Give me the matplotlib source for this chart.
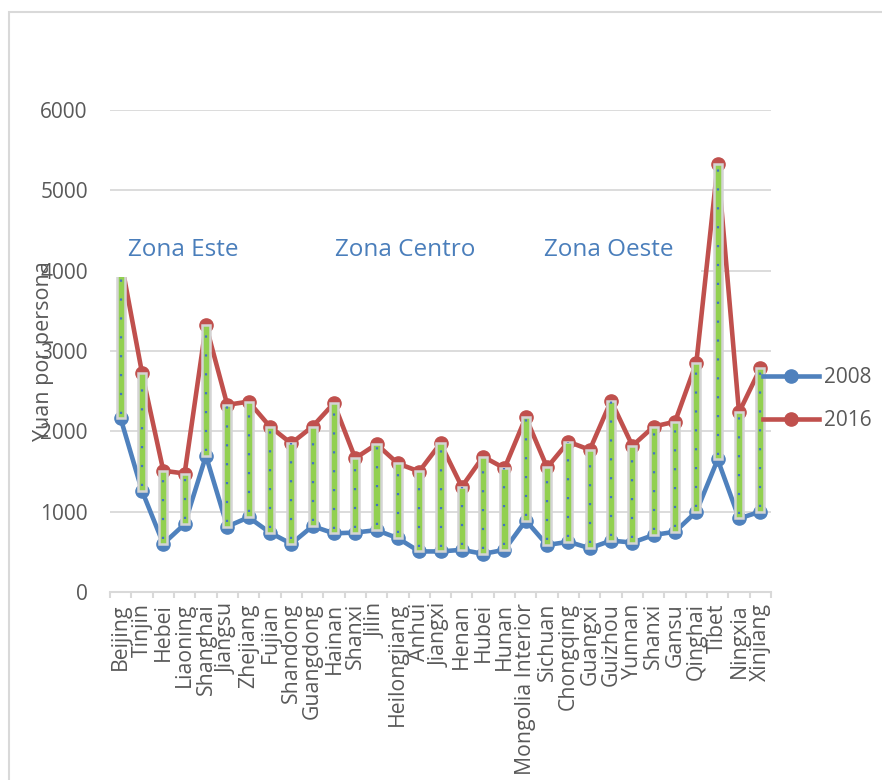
import numpy as np
import matplotlib as mpl
import matplotlib.pyplot as plt
from matplotlib.patches import Rectangle

mpl.rcParams['font.family'] = ['Open Sans', 'DejaVu Sans']

# provincias y gasto (yuan por persona)
provincias = ["Beijing", "Tinjin", "Hebei", "Liaoning", "Shanghai", "Jiangsu",
              "Zhejiang", "Fujian", "Shandong", "Guangdong", "Hainan", "Shanxi",
              "Jilin", "Heilongjiang", "Anhui", "Jiangxi", "Henan", "Hubei",
              "Hunan", "Mongolia Interior", "Sichuan", "Chongqing", "Guangxi",
              "Guizhou", "Yunnan", "Shanxi", "Gansu", "Qinghai", "Tibet",
              "Ningxia", "Xinjiang"]
v2008 = [2160, 1260, 600, 845, 1695, 815, 930, 740, 600, 820, 730, 740, 770,
         670, 505, 505, 525, 475, 525, 890, 585, 625, 545, 640, 615, 710, 750,
         1000, 1650, 915, 1000]
v2016 = [4150, 2730, 1510, 1475, 3320, 2330, 2370, 2060, 1850, 2060, 2350,
         1665, 1840, 1600, 1500, 1850, 1310, 1685, 1540, 2175, 1550, 1870,
         1770, 2380, 1820, 2060, 2120, 2855, 5325, 2235, 2785]
zonas = ["Zona Este", "Zona Centro", "Zona Oeste"]
zona_x = [2.92, 13.33, 22.9]

gris = '#595959'
azul = '#4F81BD'
rojo = '#C0504D'

fig = plt.figure(figsize=(8.82, 7.8), dpi=100)
ax = fig.add_axes([110 / 882, 1 - 592 / 780, 661 / 882, 482 / 780])

x = np.arange(len(provincias))
lo = np.minimum(v2008, v2016)
hi = np.maximum(v2008, v2016)

ax.plot(x, v2008, color=azul, lw=3.3, marker='o', ms=9.5, label='2008', zorder=3)
ax.plot(x, v2016, color=rojo, lw=3.3, marker='o', ms=9.5, label='2016', zorder=3)
ax.bar(x, hi - lo, bottom=lo, width=0.38, color='#92D050',
       edgecolor='#D4D4D4', linewidth=1.8, zorder=4)
ax.vlines(x, lo + 60, hi, colors='#4472C4', linestyles=(0, (1, 7.5)), lw=1.6, zorder=4.5)

# caja blanca de las etiquetas de zona
ax.add_patch(Rectangle((-0.5, 3925), 27.7, 800, facecolor='white',
                       edgecolor='none', zorder=5))
for t, xx in zip(zonas, zona_x):
    ax.text(xx, 4260, t, ha='center', va='center', fontsize=17.5,
            color='#4A7EBB', zorder=6)

ax.set_xlim(-0.5, len(provincias) - 0.5)
ax.set_ylim(0, 6000)
ax.set_yticks(range(0, 6001, 1000))
ax.grid(axis='y', color='#D9D9D9', lw=1.3, zorder=0)
ax.set_axisbelow(True)
for s in ['left', 'right', 'top']:
    ax.spines[s].set_visible(False)
ax.spines['bottom'].set_color('#D9D9D9')
ax.spines['bottom'].set_linewidth(1.5)

ax.set_xticks(x)
ax.set_xticklabels(provincias, rotation=90, fontsize=15.3, color=gris)
ax.set_xticks(np.arange(-0.5, len(provincias)), minor=True)
ax.tick_params(axis='x', which='major', length=0, pad=8)
ax.tick_params(axis='x', which='minor', length=4, color='#D9D9D9', width=1.5)
ax.tick_params(axis='y', length=0, pad=16, labelsize=15, labelcolor=gris)

ax.text(-0.1, 0.5, 'Yuan por persona', transform=ax.transAxes, rotation=90,
        ha='center', va='center', fontsize=15.5, color=gris)

leg = ax.legend(loc='center left', bbox_to_anchor=(763 / 882, 1 - 399 / 780),
                bbox_transform=fig.transFigure, frameon=False, fontsize=15,
                handlelength=2.7, handletextpad=0.25, borderpad=0,
                borderaxespad=0, labelspacing=1.05)
leg.set_zorder(7)
for t in leg.get_texts():
    t.set_color(gris)

# marco exterior del grafico
fig.patches.append(Rectangle((9 / 882, -0.1), 1.2, 1.1 - 12 / 780,
                             transform=fig.transFigure, fill=False,
                             edgecolor='#D9D9D9', lw=1.5))

fig.savefig('out.png', dpi=100)
